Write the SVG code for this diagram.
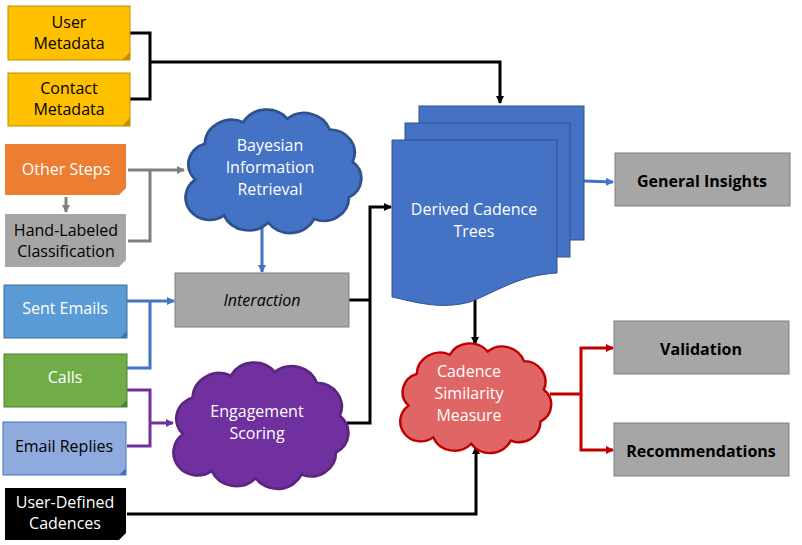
<svg xmlns="http://www.w3.org/2000/svg" width="802" height="545" viewBox="0 0 802 545">
<style>
text{font-family:"Open Sans","Liberation Sans",sans-serif;font-size:16px;text-anchor:middle}
.w{fill:#fff}.k{fill:#000}.b{font-weight:bold}
.ln{fill:none;stroke-width:3}
.cl{vector-effect:non-scaling-stroke;stroke-width:1.5}
</style>
<defs>
<path id="cloud" d="M10,40 A12,12 0 0 1 15,20 A14,14 0 0 1 35,8 A14,14 0 0 1 58,6 A14,14 0 0 1 80,12 A13,13 0 0 1 92,30 A12,12 0 0 1 90,50 A13,13 0 0 1 72,62 A14,14 0 0 1 48,64 A14,14 0 0 1 25,60 A12,12 0 0 1 10,40 Z"/>
<marker id="ab" markerWidth="8" markerHeight="8" refX="7" refY="4" orient="auto" markerUnits="userSpaceOnUse" viewBox="0 0 8 8"><path d="M0,0L8,4L0,8z" fill="#4472C4"/></marker>
<marker id="ag" markerWidth="8" markerHeight="8" refX="7" refY="4" orient="auto" markerUnits="userSpaceOnUse" viewBox="0 0 8 8"><path d="M0,0L8,4L0,8z" fill="#808080"/></marker>
<marker id="ap" markerWidth="8" markerHeight="8" refX="7" refY="4" orient="auto" markerUnits="userSpaceOnUse" viewBox="0 0 8 8"><path d="M0,0L8,4L0,8z" fill="#7030A0"/></marker>
<marker id="ar" markerWidth="8" markerHeight="8" refX="7" refY="4" orient="auto" markerUnits="userSpaceOnUse" viewBox="0 0 8 8"><path d="M0,0L8,4L0,8z" fill="#C00000"/></marker>
<marker id="a0" markerWidth="8" markerHeight="8" refX="7" refY="4" orient="auto" markerUnits="userSpaceOnUse" viewBox="0 0 8 8"><path d="M0,0L8,4L0,8z" fill="#000"/></marker>
</defs>

<g id="connectors">
<path class="ln" stroke="#000" d="M130,33H150V99H130M150,62H500V103" marker-end="url(#a0)"/>
<path class="ln" stroke="#808080" d="M128,170H150V241H128M150,170H184" marker-end="url(#ag)"/>
<path class="ln" stroke="#808080" d="M66,197V212" marker-end="url(#ag)"/>
<path class="ln" stroke="#4472C4" d="M262,225V272" marker-end="url(#ab)"/>
<path class="ln" stroke="#4472C4" d="M127,301H150V368H127M150,301H174" marker-end="url(#ab)"/>
<path class="ln" stroke="#7030A0" d="M127,390H150V446H127M150,423H173" marker-end="url(#ap)"/>
<path class="ln" stroke="#000" d="M349,300H370M347,423H370V207H391" marker-end="url(#a0)"/>
<path class="ln" stroke="#4472C4" d="M584,181L613,182" marker-end="url(#ab)"/>
<path class="ln" stroke="#000" d="M475,295V344" marker-end="url(#a0)"/>
<path class="ln" stroke="#C00000" d="M550,394H581V348H613" marker-end="url(#ar)"/>
<path class="ln" stroke="#C00000" d="M581,394V450H613" marker-end="url(#ar)"/>
<path class="ln" stroke="#000" d="M127,514H476V447" marker-end="url(#a0)"/>
</g>

<g id="user-metadata"><rect x="8" y="6" width="122" height="54" fill="#FFC000" stroke="#BF9000"/><path d="M130,52L122,60H130z" fill="#BF9000"/><text x="69" y="28" class="k">User</text><text x="69" y="49" class="k">Metadata</text></g>
<g id="contact-metadata"><rect x="8" y="73" width="122" height="53" fill="#FFC000" stroke="#BF9000"/><path d="M130,118L122,126H130z" fill="#BF9000"/><text x="69" y="94" class="k">Contact</text><text x="69" y="115" class="k">Metadata</text></g>
<g id="other-steps"><rect x="5" y="144" width="121" height="51" fill="#ED7D31"/><path d="M126,188L119,195H126z" fill="#fff"/><text x="66" y="175" class="w">Other Steps</text></g>
<g id="hand-labeled"><rect x="5" y="214" width="121" height="53" fill="#A6A6A6"/><path d="M126,260L119,267H126z" fill="#fff"/><text x="66" y="236" class="k">Hand-Labeled</text><text x="66" y="257" class="k">Classification</text></g>
<g id="sent-emails"><rect x="4" y="285" width="123" height="53" fill="#5B9BD5" stroke="#41719C"/><path d="M127,331L120,338H127z" fill="#41719C"/><text x="65" y="314" class="w">Sent Emails</text></g>
<g id="calls"><rect x="4" y="354" width="123" height="53" fill="#70AD47" stroke="#507E32"/><path d="M127,400L120,407H127z" fill="#507E32"/><text x="65" y="383" class="w">Calls</text></g>
<g id="email-replies"><rect x="3" y="422" width="123" height="53" fill="#8FAADC" stroke="#4472C4"/><path d="M126,468L119,475H126z" fill="#4472C4"/><text x="64" y="452" class="k">Email Replies</text></g>
<g id="user-defined"><rect x="5" y="488" width="121" height="52" fill="#000"/><path d="M126,533L119,540H126z" fill="#fff"/><text x="65" y="508" class="w">User-Defined</text><text x="65" y="529" class="w">Cadences</text></g>

<g id="bayesian"><use href="#cloud" transform="translate(176,108) scale(1.92,1.79)" fill="#4472C4" stroke="#2F528F" class="cl"/><text x="270" y="151" class="w">Bayesian</text><text x="270" y="173" class="w">Information</text><text x="270" y="195" class="w">Retrieval</text></g>
<g id="interaction"><rect x="175" y="273" width="174" height="54" fill="#A6A6A6" stroke="#7F7F7F"/><text x="262" y="306" class="k" font-style="italic">Interaction</text></g>
<g id="engagement"><use href="#cloud" transform="translate(164,361) scale(1.91,1.83)" fill="#7030A0" stroke="#5B2580" class="cl"/><text x="257" y="417" class="w">Engagement</text><text x="257" y="439" class="w">Scoring</text></g>

<g id="derived">
<rect x="419" y="106" width="165" height="134" fill="#4472C4" stroke="#2F528F"/>
<rect x="405" y="123" width="165" height="134" fill="#4472C4" stroke="#2F528F"/>
<path d="M392,140H557V273C520,275 500,290 470,302C440,310 415,302 392,297Z" fill="#4472C4" stroke="#2F528F"/>
<text x="474" y="215" class="w">Derived Cadence</text><text x="474" y="237" class="w">Trees</text>
</g>
<g id="general-insights"><rect x="615" y="153" width="175" height="53" fill="#A6A6A6" stroke="#7F7F7F"/><text x="702" y="187" class="k b">General Insights</text></g>
<g id="cadence-similarity"><use href="#cloud" transform="translate(392,342) scale(1.65,1.59)" fill="#E06666" stroke="#C00000" class="cl"/><text x="469" y="377" class="w">Cadence</text><text x="469" y="399" class="w">Similarity</text><text x="469" y="421" class="w">Measure</text></g>
<g id="validation"><rect x="614" y="321" width="175" height="53" fill="#A6A6A6" stroke="#7F7F7F"/><text x="701" y="355" class="k b">Validation</text></g>
<g id="recommendations"><rect x="614" y="423" width="175" height="53" fill="#A6A6A6" stroke="#7F7F7F"/><text x="701" y="457" class="k b">Recommendations</text></g>
</svg>
